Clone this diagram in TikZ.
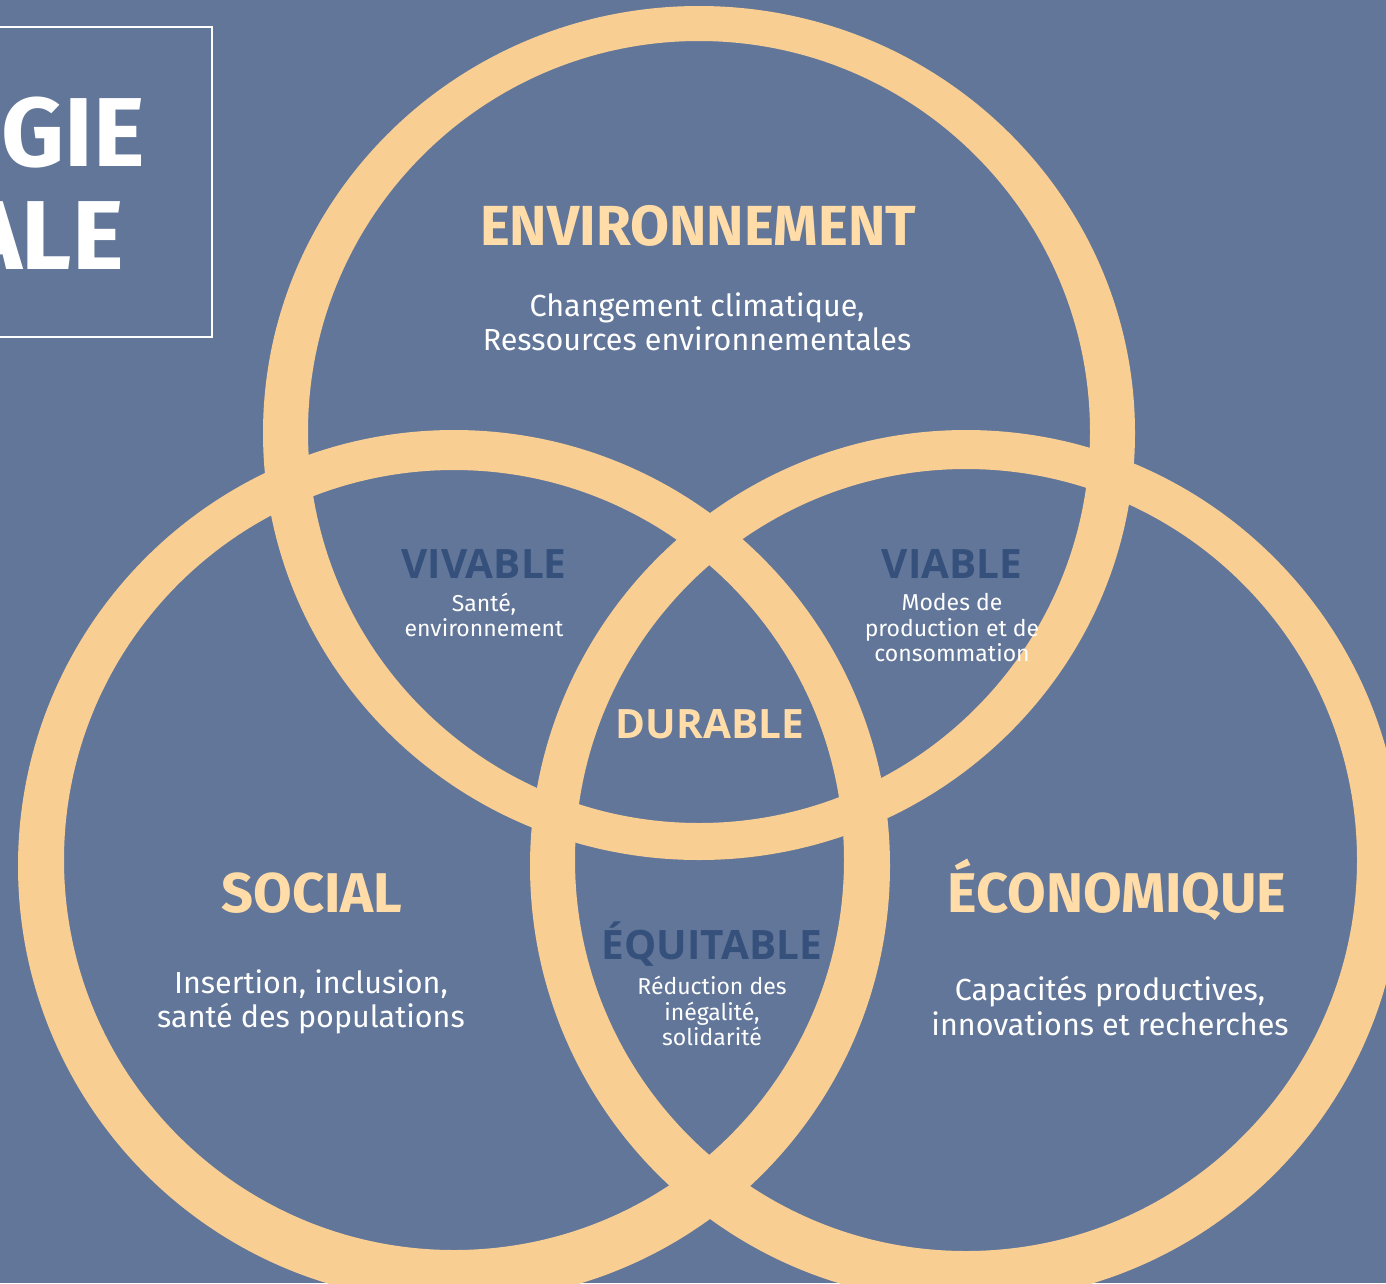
\documentclass[tikz,border=0pt]{standalone}
\usepackage{fontspec}
\setmainfont{Fira Sans}
\newfontfamily\smallheadfont{Open Sans}
\usepackage{tikz}

\definecolor{bgblue}{HTML}{627699}
\definecolor{ringpeach}{HTML}{F9CE92}
\definecolor{headpeach}{HTML}{FFDCA8}
\definecolor{darkblue}{HTML}{34507B}

\tikzset{
  ring/.style={fill=ringpeach, even odd rule},
  bighead/.style={font=\bfseries\fontsize{56}{60}\selectfont, text=headpeach, anchor=base, inner sep=0},
  smallhead/.style={font=\smallheadfont\bfseries\fontsize{40.5}{44}\selectfont, text=darkblue, anchor=base, inner sep=0},
  bigtxt/.style={font=\fontsize{30.5}{34.5}\selectfont, text=white, align=center, inner sep=0},
  smalltxt/.style={font=\fontsize{23}{25.5}\selectfont, text=white, align=center, inner sep=0}
}

\begin{document}
\begin{tikzpicture}[x=1pt, y=-1pt]
          \useasboundingbox (0,0) rectangle (1386,1283);
          \clip (0,0) rectangle (1386,1283);
          \fill[bgblue] (0,0) rectangle (1386,1283);

          \fill[ring] (699,433) ellipse [x radius=436, y radius=427] (699,432) circle [radius=391];
          \fill[ring] (454,866) circle [radius=436] (454,860) circle [radius=390];
          \fill[ring] (966,866) circle [radius=436] (966,860) circle [radius=391];

          \draw[white, line width=1.6] (-20,27) rectangle (212,337);
          \node (title1) at (145,166) [anchor=base east, inner sep=0, text=white, font=\bfseries\fontsize{98}{100}\selectfont] {GIE};
          \node (title2) at (124,269) [anchor=base east, inner sep=0, text=white, font=\bfseries\fontsize{98}{100}\selectfont] {ALE};

          \node (env) at (698,245) [bighead, font=\bfseries\fontsize{56.5}{60}\selectfont] {ENVIRONNEMENT};
          \node (envtxt) at (697,322) [bigtxt] {Changement climatique,\\Ressources environnementales};

          \node (social) at (312,912) [bighead] {SOCIAL};
          \node (soctxt) at (311,1002) [bigtxt] {Insertion, inclusion,\\santé des populations};

          \node (eco) at (1117,912) [bighead] {ÉCONOMIQUE};
          \node (ecotxt) at (1110,1006) [bigtxt] {Capacités productives,\\innovations et recherches};

          \node (vivable) at (484,578) [smallhead] {VIVABLE};
          \node (vivtxt) at (484,615) [smalltxt] {Santé,\\environnement};

          \node (viable) at (952,578) [smallhead] {VIABLE};
          \node (viatxt) at (952,628) [smalltxt] {Modes de\\production et de\\consommation};

          \node (durable) at (710,738) [smallhead, text=headpeach] {DURABLE};

          \node (equitable) at (712,959) [smallhead] {ÉQUITABLE};
          \node (equtxt) at (712,1011) [smalltxt] {Réduction des\\inégalité,\\solidarité};
        \end{tikzpicture}
\end{document}
